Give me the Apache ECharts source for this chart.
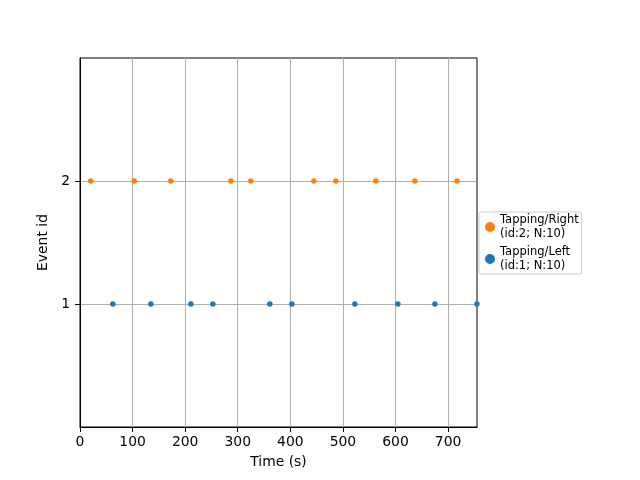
<!DOCTYPE html>
<html><head><meta charset="utf-8">
<script src="https://cdn.jsdelivr.net/npm/echarts@6/dist/echarts.min.js"></script>
<style>html,body{margin:0;padding:0;background:#fff}#c{width:640px;height:480px}</style>
</head><body><div id="c"></div>
<script>
const rightTimes = [20.5, 103.1, 172.7, 286.9, 324.9, 444.7, 486.6, 562.7, 636.9, 716.8];
const leftTimes = [62.4, 134.7, 210.8, 252.6, 361.0, 402.9, 522.7, 604.5, 674.9, 754.8];
const rightId = 2, leftId = 1;
const seriesNames = ['Tapping/Right\n(id:2; N:10)', 'Tapping/Left\n(id:1; N:10)'];
const xTicks = [0, 100, 200, 300, 400, 500, 600, 700];
const yTicks = [1, 2];

const font = 'DejaVu Sans';
const chart = echarts.init(document.getElementById('c'), null, {renderer: 'canvas'});
chart.setOption({
  animation: false,
  backgroundColor: '#fff',
  grid: {left: 80, right: 163, top: 58, bottom: 53, show: true, borderColor: '#000', borderWidth: 1, backgroundColor: 'transparent'},
  xAxis: {
    type: 'value', min: 0, max: 755, interval: 100,
    name: 'Time (s)', nameLocation: 'middle', nameGap: 28,
    nameTextStyle: {fontFamily: font, fontSize: 13.9, color: '#000'},
    axisLine: {show: true, onZero: false, lineStyle: {color: '#000', width: 1}},
    axisTick: {show: true, length: 5, lineStyle: {color: '#000'}, customValues: xTicks},
    axisLabel: {fontFamily: font, fontSize: 13.9, color: '#000', margin: 8, customValues: xTicks},
    splitLine: {show: true, lineStyle: {color: '#b0b0b0', width: 1}}
  },
  yAxis: {
    type: 'value', min: 0, max: 3, interval: 1,
    name: 'Event id', nameLocation: 'middle', nameGap: 21,
    nameTextStyle: {fontFamily: font, fontSize: 13.9, color: '#000'},
    axisLine: {show: true, onZero: false, lineStyle: {color: '#000', width: 1}},
    axisTick: {show: true, length: 5, lineStyle: {color: '#000'}, customValues: yTicks},
    axisLabel: {fontFamily: font, fontSize: 13.9, color: '#000', margin: 10, customValues: yTicks,
      formatter: v => (yTicks.indexOf(v) >= 0 ? String(v) : '')},
    splitLine: {show: true, lineStyle: {color: '#b0b0b0', width: 1}}
  },
  legend: {
    orient: 'vertical', left: 479, top: 212,
    data: seriesNames,
    icon: 'circle', itemWidth: 10, itemHeight: 10, itemGap: 4, itemTextGap: 8,
    padding: [1, 3, 1, 6],
    borderColor: '#cccccc', borderWidth: 1, borderRadius: 2, backgroundColor: '#fff',
    textStyle: {fontFamily: font, fontSize: 11.5, color: '#000', lineHeight: 14}
  },
  series: [
    {name: seriesNames[0], type: 'scatter', symbol: 'circle', symbolSize: 5.5,
     itemStyle: {color: '#ff7f0e', opacity: 1}, data: rightTimes.map(t => [t, rightId])},
    {name: seriesNames[1], type: 'scatter', symbol: 'circle', symbolSize: 5.5,
     itemStyle: {color: '#1f77b4', opacity: 1}, data: leftTimes.map(t => [t, leftId])}
  ]
});
</script></body></html>
